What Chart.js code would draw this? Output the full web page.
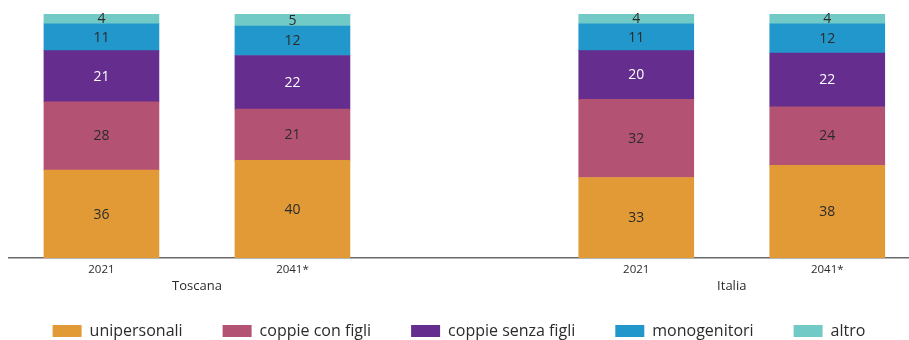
<!DOCTYPE html>
<html>
<head>
<meta charset="utf-8">
<script src="https://cdn.jsdelivr.net/npm/chart.js@4.4.1/dist/chart.umd.min.js"></script>
<style>
  html, body { margin: 0; padding: 0; background: #ffffff; overflow: hidden; }
  #wrap { width: 909px; height: 340px; position: relative; }
</style>
</head>
<body>
<div id="wrap"><canvas id="chart"></canvas></div>
<script>
// Households by type (%), Toscana and Italia, 2021 and 2041 projection
const groups = ['Toscana', 'Italia'];
const years = ['2021', '2041*'];
const seriesNames = ['unipersonali', 'coppie con figli', 'coppie senza figli', 'monogenitori', 'altro'];

// bar order: Toscana 2021, Toscana 2041*, Italia 2021, Italia 2041*
const unipersonali     = [36, 40, 33, 38];
const coppieConFigli   = [28, 21, 32, 24];
const coppieSenzaFigli = [21, 22, 20, 22];
const monogenitori     = [11, 12, 11, 12];
const altro            = [4, 5, 4, 4];
const seriesValues = [unipersonali, coppieConFigli, coppieSenzaFigli, monogenitori, altro];

const seriesColors = ['#E29A37', '#B45274', '#652D8E', '#2197CC', '#72CAC6'];
const valueColors  = ['#2b2b2b', '#2b2b2b', '#ffffff', '#2b2b2b', '#2b2b2b'];

// slots on the x scale: the two years of a group sit one unit apart,
// the groups are spread further apart
const yearStep = 1;
const groupStep = 2.8;
const barSlots = [];
const barYears = [];
groups.forEach((g, gi) => {
  years.forEach((yr, yi) => {
    barSlots.push(gi * groupStep + yi * yearStep);
    barYears.push(yr);
  });
});
const groupSlots = groups.map((g, gi) => gi * groupStep + (years.length - 1) * yearStep / 2);
const xMin = -0.484;
const xMax = 4.228;

const FONT = '"Open Sans", "Noto Sans", sans-serif';

// writes each segment's value in the middle of the segment
const segmentValues = {
  id: 'segmentValues',
  afterDatasetsDraw(chart) {
    const ctx = chart.ctx;
    ctx.save();
    ctx.font = '14px ' + FONT;
    ctx.textAlign = 'center';
    ctx.textBaseline = 'middle';
    chart.data.datasets.forEach((ds, di) => {
      const meta = chart.getDatasetMeta(di);
      if (meta.hidden) return;
      meta.data.forEach((bar, i) => {
        const p = bar.getProps(['x', 'y', 'base'], true);
        ctx.fillStyle = ds.valueColor;
        ctx.fillText(String(ds.data[i].y), p.x, (p.y + p.base) / 2 + 0.5);
      });
    });
    ctx.restore();
  }
};

// region names centred under each pair of bars, below the year labels
const groupNames = {
  id: 'groupNames',
  afterDraw(chart) {
    const xs = chart.scales.x;
    const ctx = chart.ctx;
    ctx.save();
    ctx.font = '13px ' + FONT;
    ctx.fillStyle = '#2b2b2b';
    ctx.textAlign = 'center';
    ctx.textBaseline = 'middle';
    groups.forEach((g, gi) => {
      ctx.fillText(g, xs.getPixelForValue(groupSlots[gi]), xs.top + 28);
    });
    ctx.restore();
  }
};

const datasets = seriesNames.map((name, si) => ({
  label: name,
  data: barSlots.map((slot, i) => ({ x: slot, y: seriesValues[si][i] })),
  backgroundColor: seriesColors[si],
  borderWidth: 0,
  valueColor: valueColors[si],
  stack: 'famiglie',
  barThickness: 115
}));

new Chart(document.getElementById('chart'), {
  type: 'bar',
  data: { datasets },
  plugins: [segmentValues, groupNames],
  options: {
    responsive: true,
    maintainAspectRatio: false,
    animation: false,
    layout: { padding: { top: 14, left: 9, right: 0, bottom: -9 } },
    scales: {
      x: {
        type: 'linear',
        position: 'bottom',
        offset: false,
        min: xMin,
        max: xMax,
        bounds: 'data',
        grid: { display: false, drawTicks: false, offset: false },
        border: { display: true, color: '#6a6a6a', width: 1.5 },
        afterBuildTicks: (scale) => { scale.ticks = barSlots.map(v => ({ value: v })); },
        afterFit: (scale) => { scale.height = 25; },
        ticks: {
          autoSkip: false,
          maxRotation: 0,
          padding: 5,
          color: '#2b2b2b',
          font: { family: FONT, size: 11.5 },
          callback: (v, i) => barYears[i]
        }
      },
      y: {
        display: false,
        stacked: true,
        min: 0,
        max: 100
      }
    },
    plugins: {
      legend: {
        position: 'bottom',
        labels: {
          boxWidth: 29,
          boxHeight: 12,
          padding: 40,
          color: '#2b2b2b',
          font: { family: FONT, size: 16 }
        }
      },
      tooltip: { enabled: false }
    }
  }
});
</script>
</body>
</html>
